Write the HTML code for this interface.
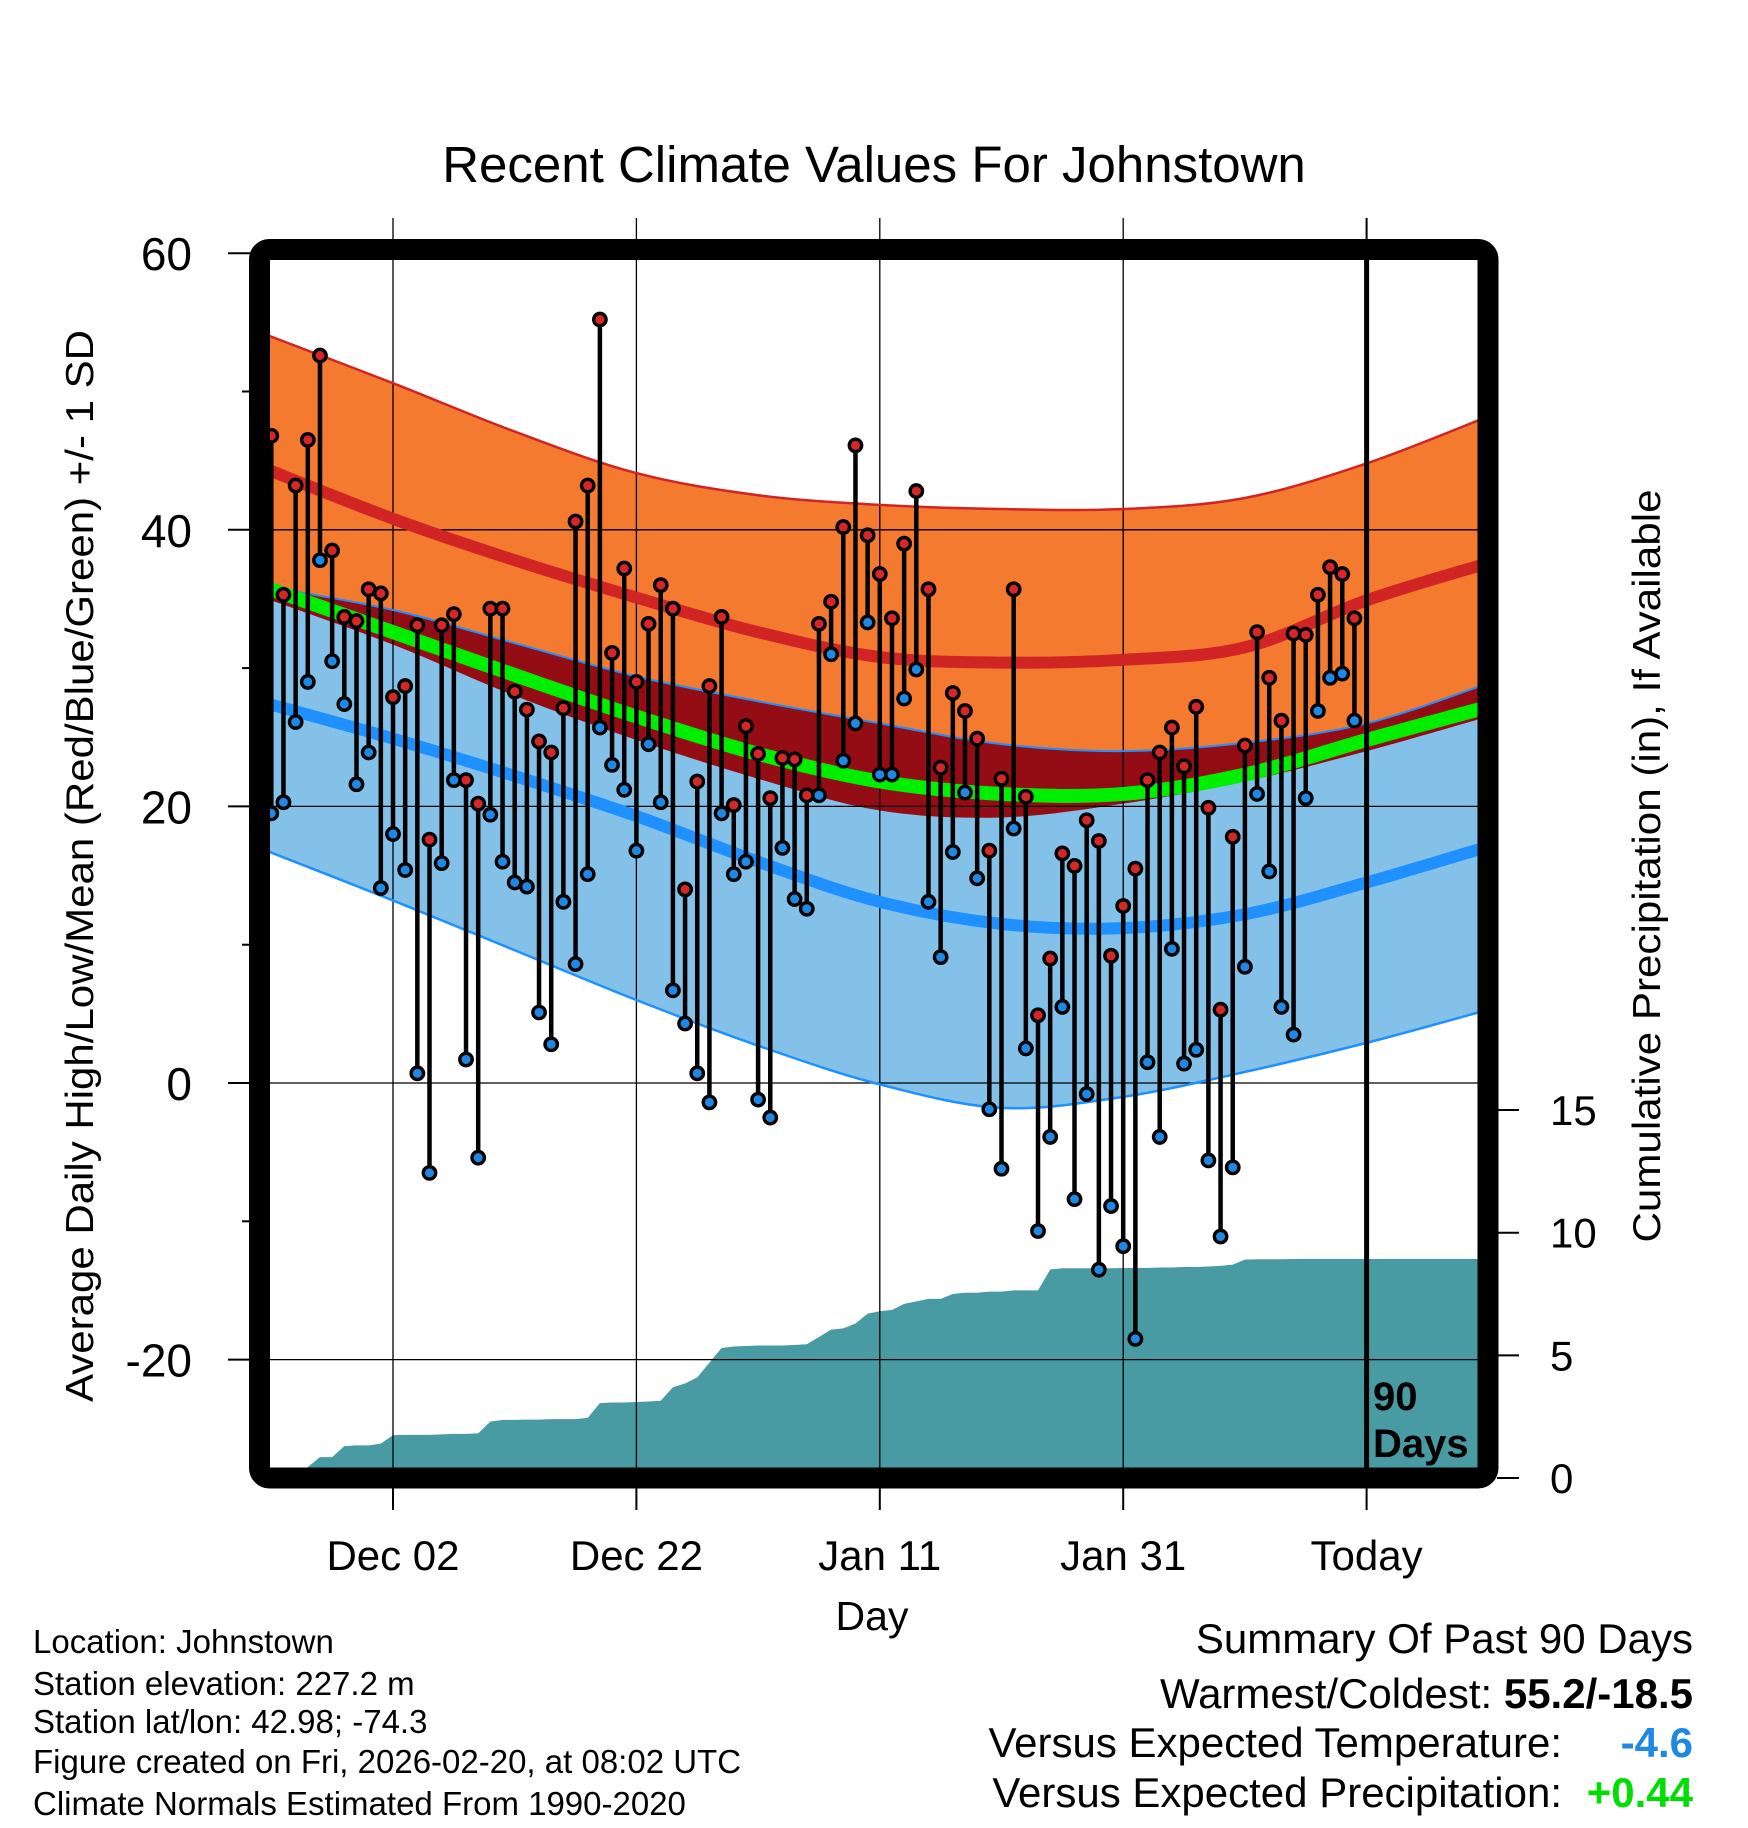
<!DOCTYPE html>
<html><head><meta charset="utf-8"><style>
html,body{margin:0;padding:0;background:#fff;}
svg{display:block;font-family:"Liberation Sans",Arial,sans-serif;}
</style></head><body>
<svg id="chart" width="1748" height="1828" viewBox="0 0 1748 1828" xmlns="http://www.w3.org/2000/svg">
<defs><clipPath id="pc"><rect x="270" y="260" width="1208" height="1208"/></clipPath></defs>
<text x="874" y="182" font-size="51" text-anchor="middle">Recent Climate Values For Johnstown</text>
<g id="fills" clip-path="url(#pc)"></g>
<g id="grid"></g>
<g id="lines" clip-path="url(#pc)"></g>
<g id="marks" clip-path="url(#pc)"></g>
<g id="axes"></g>
<text transform="translate(93,866) rotate(-90)" font-size="39" text-anchor="middle" textLength="1072" lengthAdjust="spacingAndGlyphs">Average Daily High/Low/Mean (Red/Blue/Green) +/- 1 SD</text>
<text transform="translate(1660,866) rotate(-90)" font-size="39" text-anchor="middle" textLength="753" lengthAdjust="spacingAndGlyphs">Cumulative Precipitation (in), If Available</text>
<text x="872" y="1630" font-size="41" text-anchor="middle">Day</text>
<g font-size="33">
<text x="33" y="1653">Location: Johnstown</text>
<text x="33" y="1695">Station elevation: 227.2 m</text>
<text x="33" y="1733">Station lat/lon: 42.98; -74.3</text>
<text x="33" y="1773">Figure created on Fri, 2026-02-20, at 08:02 UTC</text>
<text x="33" y="1815">Climate Normals Estimated From 1990-2020</text>
</g>
<g font-size="42">
<text x="1693" y="1653" text-anchor="end">Summary Of Past 90 Days</text>
<text x="1693" y="1708" text-anchor="end">Warmest/Coldest: <tspan font-weight="bold">55.2/-18.5</tspan></text>
<text x="1562" y="1757" text-anchor="end">Versus Expected Temperature:</text>
<text x="1693" y="1757" text-anchor="end" font-weight="bold" fill="#1e88e5">-4.6</text>
<text x="1562" y="1807" text-anchor="end">Versus Expected Precipitation:</text>
<text x="1693" y="1807" text-anchor="end" font-weight="bold" fill="#00dd00">+0.44</text>
</g>
</svg>
<script>
// ---- data ----
const highs = [46.8,35.3,43.2,46.5,52.6,38.5,33.7,33.4,35.7,35.4,27.9,28.7,33.1,17.6,33.1,33.9,21.9,20.2,34.3,34.3,28.3,27.0,24.7,23.9,27.1,40.6,43.2,55.2,31.1,37.2,29.0,33.2,36.0,34.3,14.0,21.8,28.7,33.7,20.1,25.8,23.8,20.6,23.5,23.4,20.8,33.2,34.8,40.2,46.1,39.6,36.8,33.6,39.0,42.8,35.7,22.8,28.2,26.9,24.9,16.8,22.0,35.7,20.7,4.9,9.0,16.6,15.7,19.0,17.5,9.2,12.8,15.5,21.9,23.9,25.7,22.9,27.2,19.9,5.3,17.8,24.4,32.6,29.3,26.2,32.5,32.4,35.3,37.3,36.8,33.6];
const lows = [19.5,20.3,26.1,29.0,37.8,30.5,27.4,21.6,23.9,14.1,18.0,15.4,0.7,-6.5,15.9,21.9,1.7,-5.4,19.4,16.0,14.5,14.2,5.1,2.8,13.1,8.6,15.1,25.7,23.0,21.2,16.8,24.5,20.3,6.7,4.3,0.7,-1.4,19.5,15.1,16.0,-1.2,-2.5,17.0,13.3,12.6,20.8,31.0,23.3,26.0,33.3,22.3,22.3,27.8,29.9,13.1,9.1,16.7,21.0,14.8,-1.9,-6.2,18.4,2.5,-10.7,-3.9,5.5,-8.4,-0.8,-13.5,-8.9,-11.8,-18.5,1.5,-3.9,9.7,1.4,2.4,-5.6,-11.1,-6.1,8.4,20.9,15.3,5.5,3.5,20.6,26.9,29.3,29.6,26.2];
const precip = [0,0,0,0.45,0.85,0.85,1.3,1.33,1.33,1.4,1.75,1.76,1.76,1.76,1.78,1.8,1.8,1.82,2.3,2.37,2.37,2.38,2.38,2.4,2.4,2.4,2.45,3.05,3.08,3.08,3.1,3.12,3.15,3.7,3.85,4.1,4.7,5.3,5.36,5.38,5.4,5.4,5.4,5.42,5.45,5.75,6.05,6.1,6.3,6.7,6.8,6.85,7.1,7.2,7.3,7.3,7.5,7.55,7.55,7.6,7.6,7.65,7.65,7.65,8.5,8.55,8.55,8.55,8.55,8.55,8.56,8.56,8.56,8.58,8.58,8.6,8.6,8.62,8.65,8.7,8.9,8.92,8.92,8.92,8.93,8.93,8.93,8.93,8.93,8.93];
const normDays = [-11,0,10,20,30,40,50,60,70,80,90];
const upperHigh = [54.3,50.6,47.1,44.1,42.5,41.8,41.5,41.5,42.3,44.8,48.2];
const meanHigh = [44.6,40.8,37.8,35.1,32.6,30.8,30.4,30.6,31.5,34.9,37.6];
const lowerHigh = [35.2,31.7,28.0,24.8,22.0,19.7,19.2,20.2,21.8,24.0,26.5];
const meanTemp = [36.0,32.6,29.5,26.5,23.8,21.8,20.9,20.9,22.3,24.8,27.2];
const upperLow = [36.0,34.2,31.8,29.4,27.6,26.0,24.5,24.0,24.6,26.0,28.9];
const meanLow = [27.6,24.9,22.2,19.3,16.0,13.1,11.5,11.2,12.2,14.5,17.1];
const lowerLow = [17.0,13.2,9.6,6.0,2.7,-0.1,-1.8,-1.0,0.8,2.9,5.3];
const yTicks = [60,40,20,0,-20];
const yMinor = [50,30,10,-10];
const pTicks = [0,5,10,15];
const xTickDays = [0,20,40,60,80];
const xTickLabels = ["Dec 02","Dec 22","Jan 11","Jan 31","Today"];
const firstDay = -10;

// ---- scales ----
function X(d){return 393+12.17*d;}
function Y(v){return 1083-13.83*v;}
function P(v){return 1478-24.53*v;}
const NS="http://www.w3.org/2000/svg";
function mk(tag,attrs,parent){const e=document.createElementNS(NS,tag);for(const k in attrs)e.setAttribute(k,attrs[k]);parent.appendChild(e);return e;}
function pts(arr){return normDays.map((d,i)=>[X(d),Y(arr[i])]);}
function smooth(p){let s="M"+p[0][0]+","+p[0][1];for(let i=0;i<p.length-1;i++){const p0=p[i-1]||p[i],p1=p[i],p2=p[i+1],p3=p[i+2]||p2;s+=" C"+(p1[0]+(p2[0]-p0[0])/6)+","+(p1[1]+(p2[1]-p0[1])/6)+" "+(p2[0]-(p3[0]-p1[0])/6)+","+(p2[1]-(p3[1]-p1[1])/6)+" "+p2[0]+","+p2[1];}return s;}
function band(a,b){const pa=pts(a),pb=pts(b).reverse();const back=smooth(pb).replace(/^M/,"L");return smooth(pa)+" "+back+" Z";}
const fills=document.getElementById('fills'),lines=document.getElementById('lines'),marks=document.getElementById('marks'),grid=document.getElementById('grid'),axes=document.getElementById('axes');

let e;
e=mk('path',{d:band(upperHigh,lowerHigh),fill:'#f47a2f'},fills);


e=mk('path',{d:band(upperLow,lowerLow),fill:'#83c1e8'},fills);


const ovl=lowerHigh.map((v,i)=>Math.min(v,upperLow[i]));
e=mk('path',{d:band(upperLow,ovl),fill:'#940d14'},fills);



// precip area
let pd="M"+X(firstDay)+","+P(0);
precip.forEach((v,i)=>{pd+=" L"+X(firstDay+i)+","+P(v);});
pd+=" L1480,"+P(precip[precip.length-1])+" L1480,1480 L"+X(firstDay)+",1480 Z";
e=mk('path',{d:pd,fill:'#489aa3'},fills);



// normal lines
[[upperHigh,'#d12424',2.5,'upper-high-sd-line'],[meanHigh,'#d12424',12,'mean-high-line'],[upperLow,'#1e90ff',2,'upper-low-sd-line'],[meanTemp,'#00ee00',14,'mean-temp-line'],[meanLow,'#1e90ff',12,'mean-low-line'],[lowerLow,'#1e90ff',2.5,'lower-low-sd-line']].forEach(c=>{
  const l=mk('path',{d:smooth(pts(c[0])),fill:'none',stroke:c[1],'stroke-width':c[2]},lines);
  
  
});

// grid
yTicks.forEach(v=>{
  if(v===60)return;
  const g=mk('line',{x1:270,x2:1478,y1:Y(v),y2:Y(v),stroke:'#000','stroke-width':1.3},grid);
  
  
});
xTickDays.forEach((d,i)=>{
  if(i<4){const g=mk('line',{x1:X(d),x2:X(d),y1:218,y2:1468,stroke:'#000','stroke-width':1.3},grid);
  
  }
  const t=mk('line',{x1:X(d),x2:X(d),y1:1480,y2:1510,stroke:'#000','stroke-width':2},axes);
  
  
  const tx=mk('text',{x:X(d),y:1570,'font-size':42,'text-anchor':'middle'},axes);
  tx.textContent=xTickLabels[i];
  
  
});
{const t=mk('line',{x1:X(80),x2:X(80),y1:218,y2:250,stroke:'#000','stroke-width':2},axes);

}

// stems & dots
highs.forEach((h,i)=>{
  const s=mk('line',{x1:X(firstDay+i),x2:X(firstDay+i),y1:Y(h),y2:Y(lows[i]),stroke:'#000','stroke-width':4.5},marks);
  
  
});
highs.forEach((h,i)=>{
  const a=mk('circle',{cx:X(firstDay+i),cy:Y(h),r:6.2,fill:'#d62728',stroke:'#000','stroke-width':3.4},marks);
  
  
  const b=mk('circle',{cx:X(firstDay+i),cy:Y(lows[i]),r:6.2,fill:'#1e88e5',stroke:'#000','stroke-width':3.4},marks);
  
  
});
e=mk('line',{x1:X(80),x2:X(80),y1:260,y2:1468,stroke:'#000','stroke-width':5},marks);



// frame
e=mk('rect',{x:259.5,y:249.5,width:1228.5,height:1228.5,rx:10,fill:'none',stroke:'#000','stroke-width':21},axes);



// y ticks
yTicks.forEach(v=>{
  const t=mk('line',{x1:228,x2:250,y1:Y(v),y2:Y(v),stroke:'#000','stroke-width':2},axes);
  
  
  const tx=mk('text',{x:192,y:Y(v)+17,'font-size':46,'text-anchor':'end'},axes);
  tx.textContent=String(v);
  
  
});
yMinor.forEach(v=>{
  const t=mk('line',{x1:242,x2:250,y1:Y(v),y2:Y(v),stroke:'#000','stroke-width':2},axes);
  
  
});
pTicks.forEach(v=>{
  const t=mk('line',{x1:1497,x2:1519,y1:P(v),y2:P(v),stroke:'#000','stroke-width':2},axes);
  
  
  const tx=mk('text',{x:1550,y:P(v)+15,'font-size':42},axes);
  tx.textContent=String(v);
  
  
});
const d1=mk('text',{x:1373,y:1410,'font-size':40,'font-weight':'bold'},axes);
d1.textContent="90";


const d2=mk('text',{x:1373,y:1457,'font-size':40,'font-weight':'bold'},axes);
d2.textContent="Days";


</script>
</body></html>
